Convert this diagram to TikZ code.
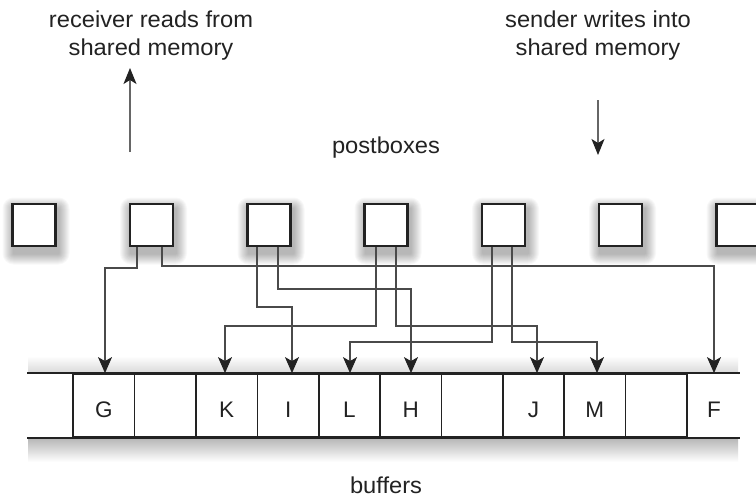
\documentclass[tikz,border=0pt]{standalone}
\usepackage{fontspec}
\setmainfont{Liberation Sans}
\newfontfamily\widefont[FakeStretch=1.03]{Liberation Sans}
\usetikzlibrary{arrows.meta,calc}
\definecolor{ink}{HTML}{222222}
\definecolor{wire}{HTML}{4A4A4A}
\definecolor{arrowgray}{HTML}{666666}
\tikzset{
  caption/.style={font=\widefont\fontsize{23}{28}\selectfont, text=ink, align=center, inner sep=0pt},
  postbox/.style={draw=ink, line width=2.2pt, fill=white, minimum width=43pt, minimum height=42pt, inner sep=0pt},
  cell/.style={draw=ink, line width=1.8pt, minimum height=63pt, inner sep=0pt, text height=23pt, text depth=0pt,
               font=\fontsize{22.5}{26}\selectfont, text=ink},
  opencell/.style={cell, draw=none},
  conn/.style={draw=wire, line width=1.1pt, -{Stealth[length=16pt,width=14pt,inset=4pt,color=ink]}},
  flow/.style={draw=arrowgray, line width=1.3pt, -{Stealth[length=16pt,width=13pt,inset=4pt,color=ink]}},
}
\begin{document}
\begin{tikzpicture}[x=1pt,y=-1pt]
\useasboundingbox (0,0) rectangle (756,498);
\fill[white] (0,0) rectangle (756,498);

% captions
\node[caption] (rcv) at (151,36) {receiver reads from\\shared memory};
\node[caption] (snd) at (598,36) {sender writes into\\shared memory};
\node[caption, anchor=base] (pbl) at (386,153) {postboxes};
\node[caption, anchor=base] (bfl) at (386,493) {buffers};

% flow arrows
\coordinate (rcvfoot) at (130,152);
\coordinate (rcvtip) at (130,68);
\coordinate (sndtop) at (598,100);
\coordinate (sndtip) at (598,155);
\draw[flow] (rcvfoot) -- (rcvtip);
\draw[flow] (sndtop) -- (sndtip);

% postbox shadows
\foreach \cx in {34,151.5,269,386,503.5,620.5,738} {
  \foreach \s in {1,...,11} {
    \fill[black, opacity=0.026, rounded corners=\s pt]
      ({\cx-22.5-\s+2},{225-22.5-\s+6}) rectangle ({\cx+22.5+\s+2},{225+22.5+\s+6});
  }
}
% postboxes
\node[postbox] (p1) at (34,225) {};
\node[postbox] (p2) at (151.5,225) {};
\node[postbox] (p3) at (269,225) {};
\node[postbox] (p4) at (386,225) {};
\node[postbox] (p5) at (503.5,225) {};
\node[postbox] (p6) at (620.5,225) {};
\node[postbox] (p7) at (738,225) {};

% buffer strip shading
\shade[top color=white, bottom color=black!16] (28,356) rectangle (738,374);
\shade[top color=black!30, bottom color=white] (28,437) rectangle (738,462);
\fill[white] (28,374) rectangle (738,437);

% buffer cells
\node[opencell, minimum width=45pt] (c0) at (50.5,405.5) {};
\node[cell, minimum width=61.5pt] (cG) at (103.75,405.5) {G};
\node[cell, minimum width=61.5pt] (c2) at (165.25,405.5) {};
\node[cell, minimum width=61.5pt] (cK) at (226.75,405.5) {K};
\node[cell, minimum width=61.5pt] (cI) at (288.25,405.5) {I};
\node[cell, minimum width=61pt] (cL) at (349.5,405.5) {L};
\node[cell, minimum width=61.5pt] (cH) at (410.75,405.5) {H};
\node[cell, minimum width=61.5pt] (c7) at (472.25,405.5) {};
\node[cell, minimum width=61pt] (cJ) at (533.5,405.5) {J};
\node[cell, minimum width=61.5pt] (cM) at (594.75,405.5) {M};
\node[cell, minimum width=61.5pt] (c10) at (656.25,405.5) {};
\node[opencell, minimum width=51pt, text height=23pt] (cF) at (714,405.5) {F};
\draw[ink, line width=1.8pt] (c0.north west) -- (cF.north east);
\draw[ink, line width=1.8pt] (c0.south west) -- (cF.south east);

% connectors
\draw[conn] ([xshift=-14.5pt]p2.south) |- (105,268) -- (105,0 |- cG.north);
\draw[conn] ([xshift=10.5pt]p2.south) |- (714,266) -- (714,0 |- cF.north);
\draw[conn] ([xshift=-12pt]p3.south) |- (292,307) -- (292,0 |- cI.north);
\draw[conn] ([xshift=9pt]p3.south) |- (411,289) -- (411,0 |- cH.north);
\draw[conn] ([xshift=-10pt]p4.south) |- (225,326) -- (225,0 |- cK.north);
\draw[conn] ([xshift=10pt]p4.south) |- (537,326) -- (537,0 |- cJ.north);
\draw[conn] ([xshift=-11.5pt]p5.south) |- (350,342) -- (350,0 |- cL.north);
\draw[conn] ([xshift=8.5pt]p5.south) |- (597,342) -- (597,0 |- cM.north);
\end{tikzpicture}
\end{document}
